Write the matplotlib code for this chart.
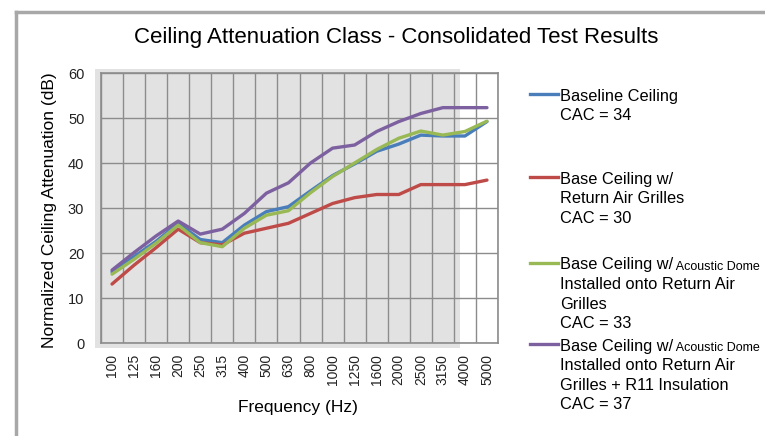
#import libraries
import numpy as np
import matplotlib
matplotlib.use('Agg')
import matplotlib.pyplot as plt
from matplotlib.patches import Rectangle
from matplotlib.lines import Line2D

plt.rcParams['font.family'] = ['Liberation Sans', 'DejaVu Sans']

# data
freqs = ['100', '125', '160', '200', '250', '315', '400', '500', '630', '800',
         '1000', '1250', '1600', '2000', '2500', '3150', '4000', '5000']
baseline = [15.8, 19.2, 22.6, 26.6, 23.0, 22.3, 26.2, 29.2, 30.3, 33.8,
            37.2, 39.8, 42.6, 44.2, 46.2, 46.0, 46.0, 49.2]
grilles = [13.1, 17.3, 21.2, 25.3, 22.3, 21.8, 24.4, 25.5, 26.6, 28.8,
           31.0, 32.3, 33.0, 33.0, 35.2, 35.2, 35.2, 36.2]
dome = [15.3, 18.6, 22.2, 26.2, 22.3, 21.4, 25.5, 28.4, 29.4, 33.4,
        37.0, 40.0, 43.0, 45.5, 47.1, 46.2, 47.0, 49.3]
dome_r11 = [16.2, 20.1, 23.8, 27.1, 24.2, 25.3, 28.8, 33.3, 35.6, 40.0,
            43.3, 44.0, 47.0, 49.2, 51.0, 52.3, 52.3, 52.3]

series = [baseline, grilles, dome, dome_r11]
colors = ['#4A7EBB', '#BE4B48', '#98B954', '#7D60A0']

W, H = 765, 436
fig = plt.figure(figsize=(W / 100, H / 100), dpi=100)

def fx(px):
    return px / W

def fy(py):
    return 1 - py / H

# outer frame of the chart (top and left edges)
fig.add_artist(Line2D([fx(16), 1], [fy(12), fy(12)], color='#a8a8a8', lw=2.5))
fig.add_artist(Line2D([fx(16), fx(16)], [fy(12), 0], color='#a8a8a8', lw=2.5))

# grey plot background (only partly covers plot area)
fig.add_artist(Rectangle((fx(95), fy(348)), fx(460) - fx(95), fy(69) - fy(348),
                         transform=fig.transFigure, color='#e2e2e2', lw=0, zorder=0))

ax = fig.add_axes([fx(101), fy(343), fx(498) - fx(101), fy(73) - fy(343)])
ax.patch.set_alpha(0)

x = np.arange(len(freqs))
for vals, c in zip(series, colors):
    ax.plot(x, vals, color=c, lw=2.4, solid_capstyle='round')

ax.set_xlim(-0.5, len(freqs) - 0.5)
ax.set_ylim(0, 60)
ax.set_yticks(range(0, 61, 10))
ax.set_xticks(x)
ax.set_xticklabels(freqs, rotation=90, fontsize=10, color='#222222')
ax.set_xticks(np.arange(-0.5, len(freqs)), minor=True)
ax.tick_params(axis='both', which='both', length=0)
ax.tick_params(axis='x', pad=8)
ax.tick_params(axis='y', pad=12, labelsize=10.5, labelcolor='#222222')
ax.grid(True, which='minor', axis='x', color='#8c8c8c', lw=1)
ax.grid(True, which='major', axis='y', color='#8c8c8c', lw=1)
ax.set_axisbelow(True)
for s in ax.spines.values():
    s.set_color('#8c8c8c')
    s.set_linewidth(1.2)

fig.text(fx(396), fy(38), 'Ceiling Attenuation Class - Consolidated Test Results',
         ha='center', va='center', fontsize=16,
         family=['Liberation Sans Narrow', 'Liberation Sans'])
fig.text(fx(50), fy(210), 'Normalized Ceiling Attenuation (dB)', rotation=90,
         ha='center', va='center', fontsize=12.5)
fig.text(fx(298), fy(407), 'Frequency (Hz)', ha='center', va='center', fontsize=12.5)

# legend drawn by hand
leg_rows = [
    (96, ['Baseline Ceiling', 'CAC = 34'], None),
    (179, ['Base Ceiling w/', 'Return Air Grilles', 'CAC = 30'], None),
    (265, ['Base Ceiling w/', 'Installed onto Return Air', 'Grilles', 'CAC = 33'], 'Acoustic Dome'),
    (346, ['Base Ceiling w/', 'Installed onto Return Air', 'Grilles + R11 Insulation', 'CAC = 37'], 'Acoustic Dome'),
]
for (ypx, lines, extra), c in zip(leg_rows, colors):
    fig.add_artist(Line2D([fx(530), fx(558)], [fy(ypx - 2), fy(ypx - 2)], color=c, lw=2.4))
    for i, t in enumerate(lines):
        txt = fig.text(fx(560), fy(ypx + i * 19.5), t, ha='left', va='center', fontsize=11.8)
        if i == 0 and extra:
            fig.draw_without_rendering()
            ax.annotate(' ' + extra, xy=(1, 0), xycoords=txt, fontsize=9,
                        ha='left', va='bottom', annotation_clip=False)

fig.savefig('out.png', dpi=100)
plt.close()
